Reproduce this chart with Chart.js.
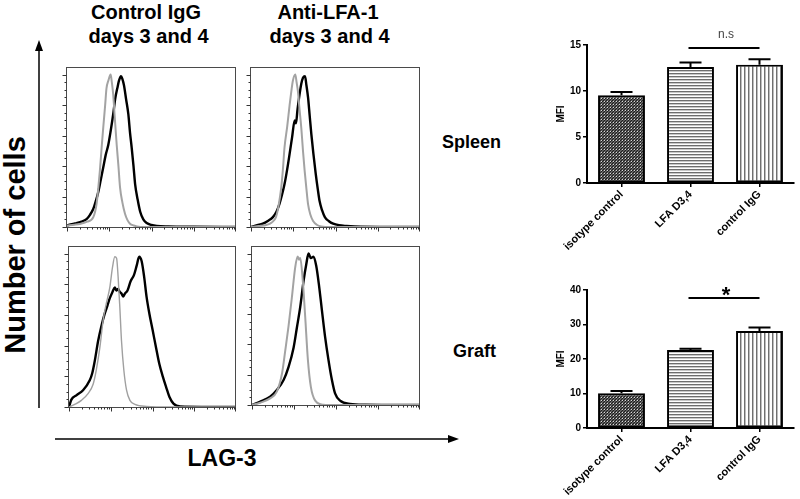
<!DOCTYPE html>
<html><head><meta charset="utf-8">
<script src="https://cdn.jsdelivr.net/npm/chart.js@4.4.1/dist/chart.umd.min.js"></script>
<style>
body{margin:0;width:800px;height:499px;background:#fff;position:relative;overflow:hidden;font-family:"Liberation Sans",Arial,Helvetica,sans-serif;}
canvas.c{position:absolute;}
.t{position:absolute;font-weight:bold;color:#000;white-space:nowrap;line-height:1;}
.ctr{text-align:center;width:220px;}
svg{position:absolute;left:0;top:0;}
</style></head><body>
<svg width="800" height="499">
  <line x1="39" y1="408" x2="39" y2="50" stroke="#000" stroke-width="1.5"/>
  <polygon points="39,40 35,51 43,51" fill="#000"/>
  <line x1="55" y1="439" x2="450" y2="439" stroke="#000" stroke-width="1.5"/>
  <polygon points="459,439 448,435 448,443" fill="#000"/>
</svg>
<div class="t ctr" style="left:36px;top:1.6px;font-size:20px;">Control IgG</div>
<div class="t ctr" style="left:38.5px;top:26px;font-size:20px;">days 3 and 4</div>
<div class="t ctr" style="left:218px;top:1.6px;font-size:20px;">Anti-LFA-1</div>
<div class="t ctr" style="left:219.5px;top:26px;font-size:20px;">days 3 and 4</div>
<div class="t" style="left:442px;top:133px;font-size:18px;">Spleen</div>
<div class="t" style="left:453px;top:342px;font-size:18px;">Graft</div>
<div class="t ctr" style="left:112px;top:447px;font-size:23px;">LAG-3</div>
<div class="t" style="left:15px;top:245px;font-size:29px;transform:translate(-50%,-50%) rotate(-90deg);">Number of cells</div>
<script>
// ---------- DATA ----------
// Flow histograms: [LAG-3 fluorescence intensity, % of max]
const spleenCtrlIso = [[1,1],[1.5,1.5],[2,2],[3,3.5],[4.2,6.5],[5,15],[6,37],[6.6,52],[7.2,65],[8,80],[8.6,91],[9.5,96],[10.8,100],[11.5,95],[12.4,87],[13.5,72],[15,54],[16.5,40],[18,26],[20.5,16],[23.6,8.7],[27,4.5],[31,2.2],[38,1],[45,0.4],[70,0],[10000,0]];
const spleenCtrlLag = [[1,1.1],[1.3,1.8],[1.67,2.6],[2.2,3.5],[2.9,5.2],[3.5,8],[4.2,12],[4.8,17],[5.5,23],[6.3,31],[7.2,39],[8.2,47],[9.5,54],[10.8,63],[12.4,74],[13.8,84],[15.5,91],[17,96],[19,99],[20.5,97],[22.3,93],[25,84],[28.3,74],[31,62],[34,52],[37.5,40],[41,28],[47,18],[54,10],[64,5],[77,2.6],[100,1.3],[134,0.7],[250,0.4],[1000,0.2],[10000,0]];
const spleenLfaIso = [[1,0],[1.5,0.6],[2.3,1.3],[3.1,3],[3.9,6.5],[4.5,14],[5.2,26],[5.7,38],[6.2,52],[7.2,66],[8.2,80],[9,89],[9.8,96],[11.2,100],[12,95],[12.9,89],[14,78],[15.5,65],[17,50],[18.6,37],[20.5,25],[22.4,15],[25.5,8],[29.5,3.9],[36,1.5],[46,0.4],[80,0],[10000,0]];
const spleenLfaLag = [[1,0],[1.4,1.2],[1.9,2.2],[2.5,4],[3.3,6.5],[4,10],[4.7,15],[5.4,21],[6.2,28],[7.2,38],[8.2,48],[9.4,59],[10.8,70],[11.6,68],[12.6,77],[14.1,87],[15.5,94],[17,98],[19,99],[20.5,93],[22.4,85],[24.5,73],[26.8,61],[30,48],[34,35],[38,25],[42,17],[48,11],[56,6.5],[70,3.8],[88,2.2],[120,1.2],[182,0.7],[400,0.2],[10000,0]];
const graftCtrlIso = [[1,0],[1.37,1.7],[1.98,4.3],[2.86,8.7],[3.8,15],[4.5,24],[5.5,39],[6.6,57],[7.9,68],[9.5,78],[11,91],[12.5,98],[13.8,97],[15,85],[16.5,65],[18.1,43],[20.6,24],[23.9,11],[28.8,4.3],[38,1.7],[72,0.4],[264,0],[10000,0]];
const graftCtrlLag = [[1,0],[1.14,4.8],[1.5,7.6],[2.17,10.9],[3.14,17.4],[3.6,22],[4.14,30],[4.98,43],[6,53],[7.2,61],[8.3,66],[9.5,71],[11,75],[12.5,78],[13.6,76],[15,77],[16.5,75],[18.1,74],[20,72],[21.8,74],[25.2,76],[29.9,82],[35.9,86],[41.6,92],[48,98],[55,95],[63,85],[72,72],[84,61],[101,50],[121,39],[146,28],[176,20],[212,13],[255,6.5],[318,2.2],[460,0.4],[10000,0]];
const graftLfaIso = [[1,0],[1.58,1.5],[2.7,4.4],[3.9,8.8],[5.2,21],[6.2,36],[7.4,52],[8.9,71],[10.7,91],[12.2,98],[13.2,96],[14.1,97],[16.2,82],[18.5,58],[21.4,30],[25.2,12],[32,2.9],[50,0.2],[100,0],[10000,0]];
const graftLfaLag = [[1,0],[1.58,2.2],[2.7,5.5],[3.9,9.9],[5.65,16.5],[7.4,25],[9.8,38],[11.7,51],[14.1,65],[16.9,82],[19.6,93],[22.2,100],[25.2,97],[29.2,98],[33.8,92],[39,80],[46,63],[55,45],[66,30],[80,16.5],[95,7.7],[125,2.9],[216,0.7],[500,0.2],[10000,0]];

// Bar charts (MFI of LAG-3)
const groups = ['isotype control','LFA D3,4','control IgG'];
const spleenMFI = [9.55, 12.6, 12.85];
const spleenSEM = [0.35, 0.5, 0.6];
const graftMFI = [10.05, 22.6, 28.1];
const graftSEM = [0.65, 0.4, 1.0];
const spleenSigLevel = 14.7, spleenSigText = 'n.s';
const graftSigLevel = 37.8, graftSigText = '*';

// ---------- RENDERING ----------
Chart.defaults.font.family = '"Liberation Sans", Arial, Helvetica, sans-serif';
Chart.defaults.color = '#000';

const frame = {
  id:'frame',
  afterDraw(ch){
    const {ctx, chartArea:a, scales:{x, y}} = ch;
    ctx.save();
    ctx.strokeStyle = '#4a4a4a'; ctx.lineWidth = 1;
    const L = Math.round(a.left)-0.5, T = Math.round(a.top)+0.5, R = Math.round(a.right)-0.5, B = Math.round(a.bottom)+0.5;
    ctx.strokeRect(L, T, R-L, B-T);
    ctx.strokeStyle = '#333';
    ctx.beginPath();
    for (let d=0; d<4; d++) for (let m=1; m<=9; m++){
      const px = Math.round(x.getPixelForValue(m*Math.pow(10,d)))+0.5;
      const len = m===1 ? 4 : 2;
      ctx.moveTo(px, B); ctx.lineTo(px, B+len);
    }
    const pe = Math.round(x.getPixelForValue(10000))-0.5; ctx.moveTo(pe,B); ctx.lineTo(pe,B+4);
    for (let v=0; v<=100; v+=5){
      const py = Math.round(y.getPixelForValue(v))+0.5;
      const len = v%20===0 ? 4 : 2;
      ctx.moveTo(L, py); ctx.lineTo(L-len, py);
    }
    ctx.stroke();
    ctx.restore();
  }
};

function toXY(arr){ return arr.map(p=>({x:p[0], y:p[1]})); }

function hist(rect, gray, black, grayW, grayC){
  const pad = {left:6, top:1, right:1, bottom:6};
  const cv = document.createElement('canvas');
  cv.className = 'c';
  cv.width = rect[2]-rect[0]+pad.left+pad.right;
  cv.height = rect[3]-rect[1]+pad.top+pad.bottom;
  cv.style.left = (rect[0]-pad.left)+'px';
  cv.style.top = (rect[1]-pad.top)+'px';
  document.body.appendChild(cv);
  new Chart(cv, {
    type:'line',
    data:{datasets:[
      {data:toXY(gray), borderColor:grayC, borderWidth:grayW, pointRadius:0, cubicInterpolationMode:'monotone'},
      {data:toXY(black), borderColor:'#000', borderWidth:2.4, pointRadius:0, cubicInterpolationMode:'monotone'}
    ]},
    options:{responsive:false, animation:false, events:[],
      layout:{padding:pad},
      plugins:{legend:{display:false}, tooltip:{enabled:false}},
      scales:{
        x:{type:'logarithmic', min:1, max:10000, display:false},
        y:{type:'linear', min:0, max:105, display:false}
      }},
    plugins:[frame]
  });
}

hist([67,67,236,227], spleenCtrlIso, spleenCtrlLag, 2, '#a3a3a3');
hist([251,67,420,227], spleenLfaIso, spleenLfaLag, 2, '#a3a3a3');
hist([69,246,236,407], graftCtrlIso, graftCtrlLag, 1.4, '#a0a0a0');
hist([252,246,420,405], graftLfaIso, graftLfaLag, 2, '#a3a3a3');

function pattern(ctx, kind){
  const c = document.createElement('canvas');
  const g = c.getContext('2d');
  if (kind==='check'){
    c.width=3; c.height=3;
    g.fillStyle='#5e5e5e'; g.fillRect(0,0,3,3);
    g.fillStyle='#1c1c1c'; g.fillRect(0,0,1,1); g.fillRect(2,1,1,1); g.fillRect(1,2,1,1);
    g.fillStyle='#d8d8d8'; g.fillRect(1,1,1,1);
  } else if (kind==='h'){
    c.width=3; c.height=3;
    g.fillStyle='#fff'; g.fillRect(0,0,3,3);
    g.fillStyle='#6e6e6e'; g.fillRect(0,0,3,1);
    g.fillStyle='#c8c8c8'; g.fillRect(0,1,3,1);
  } else {
    c.width=4; c.height=4;
    g.fillStyle='#fff'; g.fillRect(0,0,4,4);
    g.fillStyle='#707070'; g.fillRect(0,0,1,4);
    g.fillStyle='#bdbdbd'; g.fillRect(1,0,1,4);
  }
  return ctx.createPattern(c,'repeat');
}

function barChart(top, values, errs, ymax, step, sigLevel, sigText, sigFont, sigDy){
  const cv = document.createElement('canvas');
  cv.className='c'; cv.width=260; cv.height=235;
  cv.style.left='540px'; cv.style.top=top+'px';
  document.body.appendChild(cv);
  const ctx = cv.getContext('2d');
  const errPlugin = {
    id:'err',
    afterDatasetsDraw(ch){
      const c = ch.ctx, meta = ch.getDatasetMeta(0), ys = ch.scales.y;
      c.save();
      c.strokeStyle='#000'; c.lineWidth=2;
      meta.data.forEach((bar,i)=>{
        const y0 = ys.getPixelForValue(values[i]);
        const y1 = ys.getPixelForValue(values[i]+errs[i]);
        c.beginPath();
        c.moveTo(bar.x, y0); c.lineTo(bar.x, y1);
        c.moveTo(bar.x-11, y1); c.lineTo(bar.x+11, y1);
        c.stroke();
      });
      const xa = meta.data[1].x+2, xb = meta.data[2].x;
      const ly = Math.round(ys.getPixelForValue(sigLevel));
      c.beginPath(); c.moveTo(xa-4, ly); c.lineTo(xb, ly); c.stroke();
      c.font = sigFont; c.textAlign='center'; c.textBaseline='alphabetic';
      c.fillStyle = sigText==='*' ? '#000' : '#444';
      c.fillText(sigText, (xa+xb)/2, ly+sigDy);
      c.restore();
    }
  };
  new Chart(cv, {
    type:'bar',
    data:{labels:groups, datasets:[{
      data:values,
      backgroundColor:[pattern(ctx,'check'), pattern(ctx,'h'), pattern(ctx,'v')],
      borderColor:'#000', borderWidth:2, borderSkipped:false,
      barPercentage:0.68, categoryPercentage:1
    }]},
    options:{responsive:false, animation:false, events:[],
      layout:{padding:{top:20, right:6, left:0, bottom:0}},
      plugins:{legend:{display:false}, tooltip:{enabled:false}},
      scales:{
        x:{
          grid:{display:true, drawOnChartArea:false, offset:false, tickLength:4, color:'#000', lineWidth:1.5},
          border:{display:true, color:'#000', width:2},
          ticks:{minRotation:45, maxRotation:45, padding:1, color:'#000', font:{size:11, weight:'bold'}},
          afterFit(s){ s.height = 77; }
        },
        y:{
          min:0, max:ymax,
          grid:{display:true, drawOnChartArea:false, tickLength:4, color:'#000', lineWidth:1.5},
          border:{display:true, color:'#000', width:2},
          ticks:{stepSize:step, padding:2, color:'#000', font:{size:10, weight:'bold'}},
          title:{display:true, text:'MFI', color:'#000', font:{size:10, weight:'bold'}, padding:{top:15, bottom:0}},
          afterFit(s){ s.width = 47; }
        }
      }},
    plugins:[errPlugin]
  });
}

barChart(25, spleenMFI, spleenSEM, 15, 5, spleenSigLevel, spleenSigText, '12px "Liberation Sans", Arial, sans-serif', -10);
barChart(270, graftMFI, graftSEM, 40, 10, graftSigLevel, graftSigText, 'bold 22px "Liberation Sans", Arial, sans-serif', 4);
</script>
</body></html>
